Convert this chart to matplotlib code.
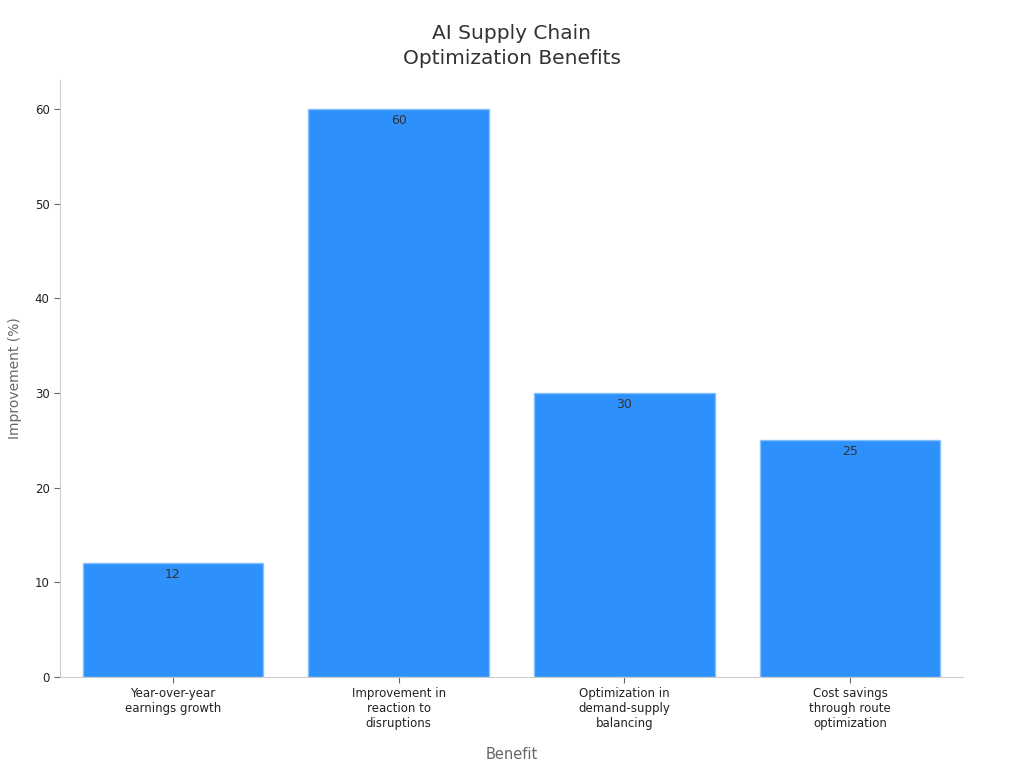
import matplotlib
matplotlib.use("Agg")
import matplotlib.pyplot as plt

categories = ["Year-over-year\nearnings growth", "Improvement in\nreaction to\ndisruptions",
              "Optimization in\ndemand-supply\nbalancing", "Cost savings\nthrough route\noptimization"]
values = [12, 60, 30, 25]

fig = plt.figure(figsize=(10.24, 7.68), dpi=100)
ax = fig.add_axes([0.0586, 0.1185, 0.8818, 0.7775])
x = list(range(len(values)))
bars = ax.bar(x, values, width=0.8, color="#2E90FA", edgecolor="#84C0FC", linewidth=1)
for xi, v in zip(x, values):
    ax.text(xi, v - 0.5, f"{v}", ha="center", va="top", fontsize=9, color="#333333")
ax.set_xlim(-0.5, 3.5)
ax.set_ylim(0, 63.1)
ax.set_xticks(x)
ax.set_xticklabels(categories, fontsize=8.5, color="#222222")
ax.set_yticks([0, 10, 20, 30, 40, 50, 60])
ax.tick_params(axis="y", labelsize=8.5, colors="#222222")
ax.tick_params(axis="both", color="#666666", length=4)
for s in ["top", "right"]:
    ax.spines[s].set_visible(False)
for s in ["left", "bottom"]:
    ax.spines[s].set_color("#CCCCCC")
ax.set_xlabel("Benefit", fontsize=10.5, color="#666666", labelpad=12)
ax.set_ylabel("Improvement (%)", fontsize=10, color="#666666", labelpad=9)
fig.text(0.5, 0.94, "AI Supply Chain\nOptimization Benefits", fontsize=14.5, color="#333333",
         ha="center", va="center", linespacing=1.45)
fig.savefig("out.png", dpi=100)
